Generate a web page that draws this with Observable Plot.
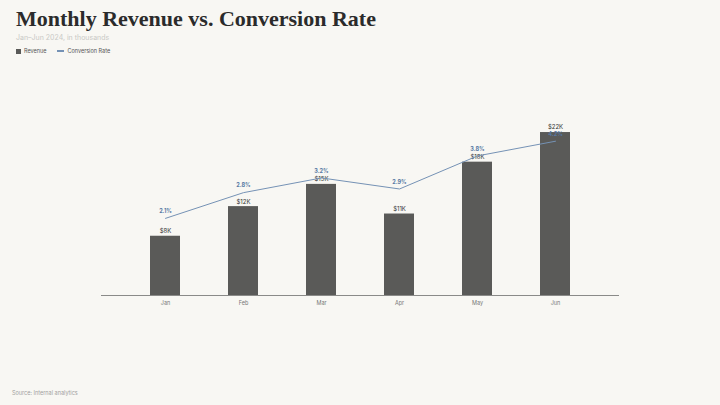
<!DOCTYPE html>
<html><head><meta charset="utf-8">
<script src="https://cdn.jsdelivr.net/npm/d3@7"></script>
<script src="https://cdn.jsdelivr.net/npm/@observablehq/plot@0.6"></script>
<style>
html,body{margin:0;padding:0;background:#f8f7f3;width:720px;height:405px;overflow:hidden;position:relative;font-family:Inter,"DejaVu Sans",sans-serif;}
#title{position:absolute;left:16px;top:6px;font-family:"Liberation Serif",serif;font-weight:bold;font-size:22px;color:#2b2b2b;white-space:nowrap;}
#sub{position:absolute;left:16px;top:33px;font-size:7px;color:#c9c9c6;}
#legend{position:absolute;left:16px;top:48px;font-size:5.5px;color:#555;display:flex;align-items:center;}
.sw{display:inline-block;width:5px;height:5px;background:#5a5a58;margin-right:3px;}
.ln{display:inline-block;width:7px;height:1.2px;background:#7592b5;margin:0 3px 0 0;}
#chart{position:absolute;left:0;top:60px;}
#source{position:absolute;left:12px;top:390px;font-size:5.5px;color:#a0a09e;}
</style></head>
<body>
<div id="title">Monthly Revenue vs. Conversion Rate</div>
<div id="sub">Jan–Jun 2024, in thousands</div>
<div id="legend"><span class="sw"></span><span style="margin-right:11px">Revenue</span><span class="ln"></span><span>Conversion Rate</span></div>
<div id="chart"></div>
<div id="source">Source: Internal analytics</div>
<script>
const months = ["Jan","Feb","Mar","Apr","May","Jun"];
const revenue = [8, 12, 15, 11, 18, 22];
const revenueLabels = ["$8K","$12K","$15K","$11K","$18K","$22K"];
const conversion = [2.1, 2.8, 3.2, 2.9, 3.8, 4.2];

const revMax = 24.3;
const rateMax = 4.9;
const k = revMax / rateMax;

const data = months.map((m, i) => ({
  month: m, revenue: revenue[i], label: revenueLabels[i],
  rate: conversion[i], rateY: conversion[i] * k, rateLabel: conversion[i].toFixed(1) + "%"
}));

const chart = Plot.plot({
  width: 720, height: 260,
  marginLeft: 101, marginRight: 101, marginTop: 55, marginBottom: 25,
  style: {background: "transparent", fontFamily: "Inter, sans-serif"},
  x: {domain: months, padding: 0.62, label: null, tickSize: 0, tickPadding: 6},
  y: {domain: [0, revMax], axis: null},
  marks: [
    Plot.barY(data, {x: "month", y: "revenue", fill: "#5a5a58"}),
    Plot.ruleY([0], {stroke: "#8a8a88", strokeWidth: 1}),
    Plot.text(data, {x: "month", y: "revenue", text: "label", dy: -5, fontSize: 6, fill: "#333"}),
    Plot.line(data, {x: "month", y: "rateY", stroke: "#7592b5", strokeWidth: 1}),
    Plot.text(data, {x: "month", y: "rateY", text: "rateLabel", dy: -7, fontSize: 5.5, fontWeight: "bold", fill: "#5577a3"})
  ]
});
const xa = chart.querySelector("[aria-label='x-axis tick label']");
if (xa) { xa.setAttribute("font-size","5.5"); xa.setAttribute("fill","#777"); }
document.getElementById("chart").append(chart);
</script>
</body></html>
